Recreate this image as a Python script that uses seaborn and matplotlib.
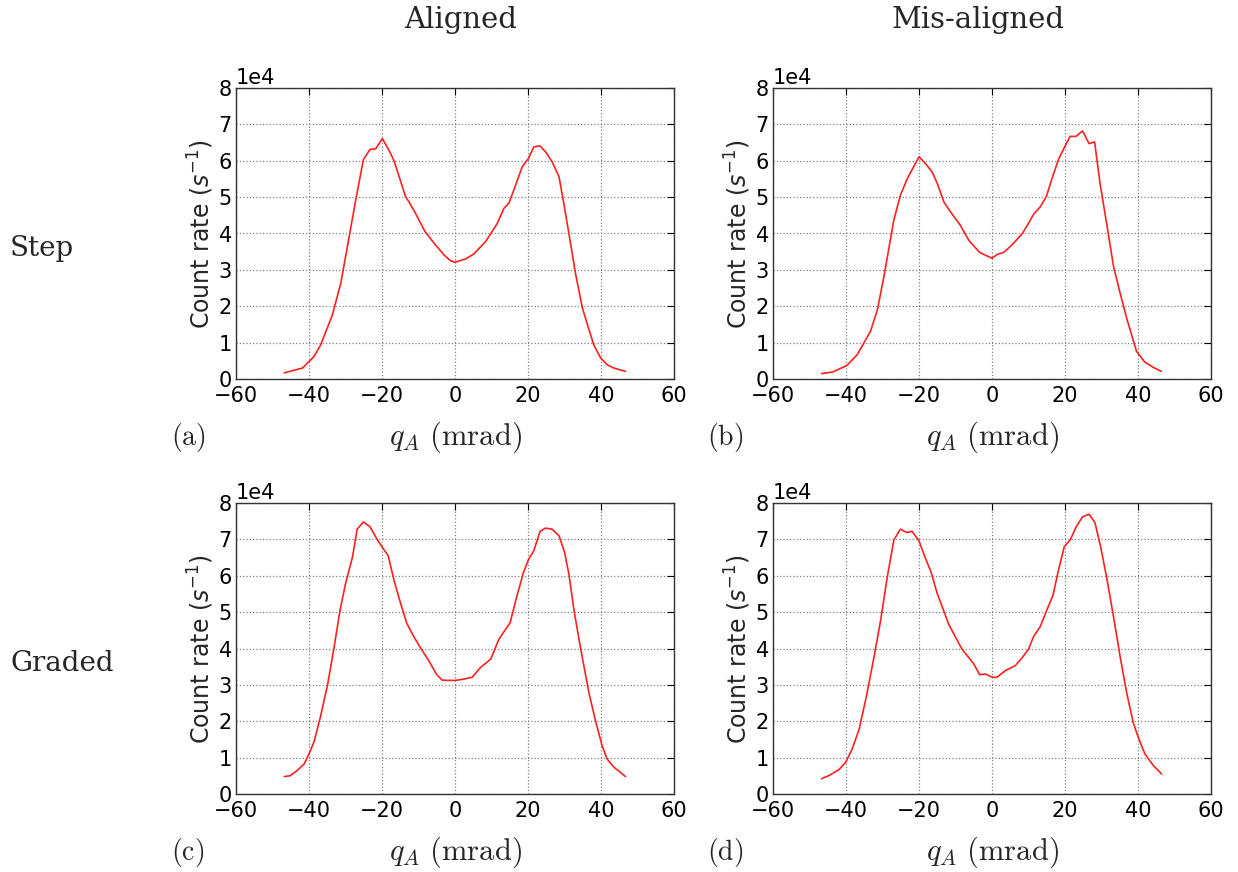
import numpy as np
import pandas as pd
import matplotlib
matplotlib.use("Agg")
import matplotlib.pyplot as plt
import seaborn as sns

# Panel (a): Step, aligned
step_aligned_q = [-46.8, -41.8, -38.6, -36.8, -33.6, -31.3, -29.0, -27.2, -25.1, -23.3,
                  -21.7, -19.9, -18.1, -16.7, -13.5, -12.6, -10.8, -8.2, -5.7, -3.0,
                  -1.2, 0.0, 2.9, 5.2, 8.4, 11.6, 13.4, 14.8, 16.6, 18.4,
                  20.1, 21.6, 23.3, 25.0, 26.6, 28.5, 29.8, 31.2, 33.0, 34.9,
                  38.0, 39.9, 41.7, 43.5, 46.7]
step_aligned_rate = [0.17, 0.30, 0.62, 0.94, 1.76, 2.63, 3.91, 4.92, 6.03, 6.31,
                     6.33, 6.61, 6.29, 6.00, 5.00, 4.87, 4.55, 4.05, 3.73, 3.41,
                     3.25, 3.21, 3.30, 3.44, 3.78, 4.28, 4.69, 4.84, 5.33, 5.83,
                     6.06, 6.38, 6.41, 6.22, 5.97, 5.56, 4.83, 4.00, 2.91, 1.95,
                     0.94, 0.58, 0.39, 0.30, 0.21]

# Panel (b): Step, mis-aligned
step_mis_q = [-46.7, -43.7, -39.8, -36.9, -33.3, -31.4, -29.6, -26.9, -25.1, -23.2,
              -20.0, -18.2, -16.4, -15.0, -13.2, -11.4, -8.7, -6.4, -3.4, 0.0,
              1.5, 3.2, 5.0, 8.2, 10.0, 11.4, 13.2, 14.9, 16.4, 18.2,
              20.0, 21.4, 23.0, 24.8, 26.6, 28.1, 29.6, 31.4, 33.3, 35.1,
              36.9, 39.6, 41.9, 44.2, 46.4]
step_mis_rate = [0.15, 0.19, 0.37, 0.67, 1.31, 1.90, 2.82, 4.37, 5.05, 5.51,
                 6.11, 5.92, 5.69, 5.38, 4.87, 4.60, 4.23, 3.82, 3.48, 3.32,
                 3.43, 3.48, 3.64, 3.98, 4.28, 4.53, 4.73, 5.02, 5.50, 6.03,
                 6.40, 6.67, 6.67, 6.82, 6.47, 6.52, 5.38, 4.28, 3.09, 2.36,
                 1.67, 0.76, 0.46, 0.32, 0.21]

# Panel (c): Graded, aligned
graded_aligned_q = [-46.8, -45.2, -43.2, -41.3, -40.0, -38.6, -36.8, -34.9, -33.1, -31.5,
                    -30.0, -28.1, -26.8, -25.1, -23.3, -21.4, -19.9, -18.3, -16.7, -14.9,
                    -13.2, -11.7, -9.4, -7.1, -5.0, -3.5, 0.0, 2.5, 4.7, 7.0,
                    9.8, 12.0, 15.1, 16.9, 18.7, 20.1, 21.6, 23.3, 24.8, 26.6,
                    28.5, 30.0, 31.2, 32.6, 34.4, 36.7, 38.5, 40.3, 41.7, 43.5,
                    46.7]
graded_aligned_rate = [0.48, 0.50, 0.65, 0.83, 1.10, 1.44, 2.15, 3.01, 4.05, 5.05,
                       5.78, 6.51, 7.28, 7.48, 7.35, 7.01, 6.78, 6.55, 5.87, 5.24,
                       4.69, 4.40, 4.01, 3.65, 3.28, 3.13, 3.12, 3.16, 3.21, 3.48,
                       3.71, 4.25, 4.71, 5.42, 6.07, 6.44, 6.69, 7.22, 7.31, 7.28,
                       7.10, 6.65, 6.05, 5.05, 4.01, 2.78, 2.01, 1.33, 0.96, 0.74,
                       0.48]

# Panel (d): Graded, mis-aligned
graded_mis_q = [-46.7, -44.6, -41.9, -40.1, -38.3, -36.4, -34.4, -32.3, -30.5, -28.7,
                -26.9, -25.1, -23.4, -21.9, -20.0, -18.5, -16.7, -15.0, -11.8, -8.2,
                -5.0, -3.4, -1.8, 0.0, 1.4, 3.6, 6.4, 8.2, 10.0, 11.4,
                13.2, 15.0, 16.7, 18.2, 19.8, 21.4, 23.1, 24.8, 26.6, 28.2,
                29.8, 31.4, 33.3, 35.1, 36.9, 38.7, 40.1, 41.9, 44.2, 46.5]
graded_mis_rate = [0.42, 0.51, 0.67, 0.87, 1.24, 1.78, 2.69, 3.78, 4.78, 5.96,
                   6.98, 7.28, 7.19, 7.22, 6.96, 6.55, 6.10, 5.51, 4.65, 3.98,
                   3.58, 3.28, 3.30, 3.21, 3.21, 3.39, 3.53, 3.74, 3.98, 4.33,
                   4.60, 5.05, 5.46, 6.15, 6.80, 6.98, 7.35, 7.62, 7.69, 7.46,
                   6.78, 5.96, 4.87, 3.78, 2.78, 1.96, 1.55, 1.10, 0.78, 0.55]

col_titles = ["Aligned", "Mis-aligned"]
row_titles = ["Step", "Graded"]
panel_tags = ["(a)", "(b)", "(c)", "(d)"]

panels = [
    (step_aligned_q, step_aligned_rate),
    (step_mis_q, step_mis_rate),
    (graded_aligned_q, graded_aligned_rate),
    (graded_mis_q, graded_mis_rate),
]

sns.set_theme(style="white")
plt.rcParams["font.family"] = ["DejaVu Sans"]
plt.rcParams["mathtext.fontset"] = "dejavusans"

fig = plt.figure(figsize=(12.38, 8.72), dpi=100)

W, H = 1238.0, 872.0
lefts = [236, 773]
tops = [88, 503]
ax_w, ax_h = 438, 291

for i, (q, rate) in enumerate(panels):
    row, col = divmod(i, 2)
    ax = fig.add_axes([lefts[col] / W, 1 - (tops[row] + ax_h) / H, ax_w / W, ax_h / H])
    df = pd.DataFrame({"q": q, "rate": np.array(rate) * 1e4})
    sns.lineplot(data=df, x="q", y="rate", ax=ax, color="#ff2020", linewidth=1.2,
                 sort=False, estimator=None)
    ax.set_xlim(-60, 60)
    ax.set_ylim(0, 80000)
    ax.set_xticks(np.arange(-60, 61, 20))
    ax.set_yticks(np.arange(0, 80001, 10000))
    ax.ticklabel_format(axis="y", style="sci", scilimits=(0, 0))
    ax.yaxis.get_offset_text().set_fontsize(15)
    ax.grid(True, linestyle=":", color="0.5", linewidth=0.9)
    ax.tick_params(direction="in", top=True, right=True, length=5, width=0.8,
                   labelsize=15, colors="black")
    ax.tick_params(axis="x", pad=5)
    ax.tick_params(axis="y", pad=3)
    for s in ax.spines.values():
        s.set_color("0.2")
        s.set_linewidth(1.0)
    ax.set_xlabel(r"$q_A\ \mathrm{(mrad)}$", fontsize=22, math_fontfamily="cm",
                  labelpad=10)
    ax.set_ylabel(r"Count rate $(s^{-1})$", fontsize=17, labelpad=2)
    # panel tag
    fig.text((lefts[col] - 48) / W, 1 - (tops[row] + ax_h + 58) / H,
             "$\\mathrm{" + panel_tags[i] + "}$", fontsize=20, math_fontfamily="cm",
             ha="center", va="center")

title_x = [461, 978]
for col, t in enumerate(col_titles):
    fig.text(title_x[col] / W, 1 - 20 / H, t, fontsize=21,
             family="DejaVu Serif", ha="center", va="center")

for row, t in enumerate(row_titles):
    fig.text(10 / W, 1 - (tops[row] + 160) / H, t, fontsize=20,
             family="DejaVu Serif", ha="left", va="center")

fig.savefig("out.png", dpi=100)
